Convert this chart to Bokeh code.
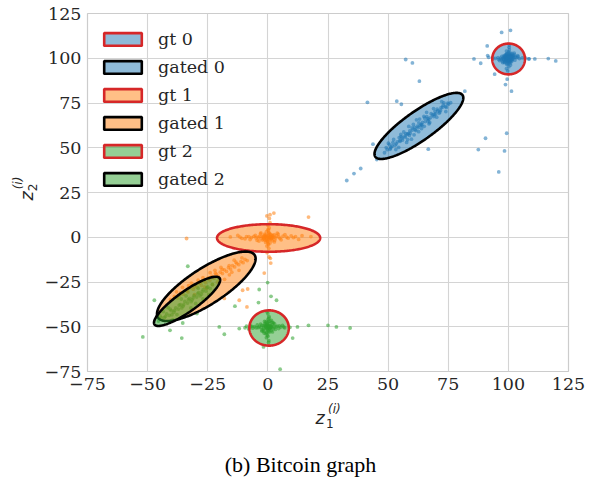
import numpy as np
from bokeh.plotting import figure
from bokeh.layouts import column, row
from bokeh.models import FixedTicker, Legend, LegendItem, Range1d
from bokeh.core.properties import value
from bokeh.embed import file_html
from bokeh.resources import INLINE

# ---------------- data ----------------
# cluster 0 (blue): tight core, elongated gated cloud, stray points
c0_core_x = [100.2, 99.1, 101.3, 98.7, 100.8, 102.1, 97.9, 100.5, 99.6, 101.9, 98.2, 100.0, 103.4, 96.8,
             99.3, 100.9, 101.5, 98.9, 100.3, 99.8, 104.6, 95.7, 100.1, 99.4, 102.7, 97.3, 100.6, 99.9,
             101.1, 98.5, 100.4, 105.8, 94.6, 100.2, 99.7, 100.0, 101.7, 98.1, 99.5, 100.7, 107.2, 93.5,
             100.3, 99.2, 102.4, 97.6, 100.8, 99.0, 101.4, 98.8, 100.1, 99.6, 102.9, 97.1, 100.5, 99.3,
             101.2, 98.4, 100.9, 99.8, 103.9, 96.3, 100.6, 99.5, 101.8, 98.6, 100.2, 99.9, 108.6, 91.8,
             100.4, 99.7, 99.4, 100.7, 101.0, 98.9, 100.3, 99.2, 101.6, 98.3, 100.0, 100.1, 102.2, 97.8,
             100.6, 99.4, 101.3, 98.6, 100.2, 99.8, 102.6, 97.5, 101.5, 98.4, 100.9, 99.2, 104.0, 96.0,
             100.4, 99.6, 100.8, 99.1]
c0_core_y = [100.4, 99.3, 100.9, 100.2, 98.6, 101.2, 99.5, 101.8, 98.1, 99.7, 101.4, 100.0, 100.3, 100.1,
             102.6, 97.4, 101.0, 98.8, 99.2, 100.7, 99.8, 100.4, 103.5, 96.5, 98.9, 101.1, 100.2, 99.6,
             102.2, 97.9, 104.8, 100.2, 99.9, 95.3, 101.3, 98.9, 100.6, 99.2, 100.9, 99.4, 100.1, 100.3,
             106.1, 94.2, 102.9, 97.6, 101.5, 100.5, 98.3, 101.9, 100.8, 99.9, 100.7, 99.3, 97.9, 102.0,
             99.0, 100.6, 100.3, 98.4, 101.4, 98.7, 103.0, 97.0, 101.8, 98.3, 99.1, 101.0, 99.7, 100.5,
             107.4, 92.9, 100.8, 99.9, 101.5, 99.9, 98.2, 101.7, 99.1, 100.8, 102.9, 97.1, 100.5, 100.0,
             101.1, 98.8, 99.6, 101.0, 100.9, 99.0, 101.9, 98.4, 102.7, 97.5, 96.2, 104.0, 100.9, 99.4,
             100.0, 100.3, 100.6, 99.6]
c0_band_x = [48.5, 49.6, 50.8, 51.7, 52.9, 53.8, 55.0, 55.9, 57.1, 58.0, 59.2, 60.1, 61.3, 62.2, 63.4,
             64.3, 65.5, 66.4, 67.6, 68.5, 69.7, 70.6, 71.8, 72.7, 73.9, 74.8, 76.0, 56.5, 60.8, 64.9,
             67.0, 52.3, 70.2, 58.6, 62.7, 54.4, 72.3, 66.0, 59.7, 50.1, 74.0, 61.8, 57.7, 68.9, 63.9,
             55.3, 71.2, 53.2, 65.0, 60.5, 51.2, 54.9, 58.4, 61.0, 63.8, 66.9, 69.2, 72.0, 75.1, 57.0,
             49.2, 50.5, 52.0, 53.4, 54.6, 56.0, 57.4, 58.8, 60.0, 61.5, 62.8, 64.0, 65.2, 66.6, 67.9,
             69.0, 70.4, 71.5, 72.9, 74.2, 55.4, 59.0, 62.5, 66.1, 69.5, 51.0, 73.2, 63.1, 58.1, 67.3]
c0_band_y = [47.2, 48.9, 49.1, 51.0, 51.4, 53.3, 53.6, 55.5, 55.9, 57.6, 58.1, 59.9, 60.2, 62.0, 62.5,
             64.1, 64.6, 66.3, 66.8, 68.4, 68.9, 70.6, 71.0, 72.7, 73.1, 74.9, 75.2, 58.8, 57.2, 67.5,
             63.4, 54.6, 67.1, 61.9, 59.0, 50.2, 75.8, 69.8, 54.8, 52.5, 70.2, 65.6, 53.0, 71.9, 60.7,
             57.4, 69.3, 49.0, 62.0, 63.0, 50.4, 54.1, 57.9, 61.4, 63.0, 65.9, 68.5, 72.4, 74.3, 56.6,
             50.1, 51.8, 52.9, 52.2, 55.7, 54.3, 57.9, 56.9, 61.1, 59.6, 63.9, 62.6, 66.5, 65.0, 69.0,
             67.4, 71.5, 70.0, 73.8, 72.5, 56.2, 59.4, 61.3, 67.4, 70.2, 49.8, 75.1, 66.0, 54.5, 64.1]
c0_out_x = [97.2, 100.9, 91.2, 91.4, 85.7, 88.5, 94.3, 98.8, 99.5, 101.3, 108.5, 111.0, 116.6, 119.7,
            57.3, 60.1, 63.0, 81.9, 41.4, 53.6, 55.5, 90.5, 99.3, 87.5, 98.4, 96.0, 66.7, 43.7, 38.6,
            35.8, 32.8, 45.3]
c0_out_y = [114.4, 115.6, 106.9, 101.5, 99.6, 97.2, 91.1, 85.3, 88.3, 81.6, 99.6, 99.6, 99.8, 98.5,
            99.3, 97.4, 87.2, 81.6, 75.4, 76.0, 74.3, 55.3, 58.1, 49.0, 48.2, 36.5, 49.2, 52.0, 38.4,
            35.6, 31.7, 43.4]

# cluster 1 (orange)
c1_core_x = [0.3, -1.2, 1.5, -0.6, 2.1, -2.4, 0.8, -0.2, 3.2, -3.5, 0.5, -0.9, 1.1, -1.6, 4.6, -4.9,
             0.2, 0.1, 2.6, -2.2, 6.3, -6.8, 0.6, -0.4, 1.8, -1.4, 8.4, -8.9, 0.0, 0.4, 11.5, -10.8,
             3.9, -3.7, 0.7, -0.5, 14.2, -15.6, 1.3, -1.0, 5.5, -5.2, 2.7, -2.9, 0.9, -0.3, 12.8, -12.5,
             7.1, -7.4, 0.2, -0.8, 1.9, -1.8, 0.4, 9.7, -9.5, 0.6, 1.0, 17.9,
             0.5, -0.7, 1.6, -1.5, 2.4, -2.7, 0.3, -0.1, 3.6, -4.0, 0.9, -0.6, 5.0, -5.8, 1.2, -1.1,
             2.9, -3.1, 7.8, -7.9, 0.1, 0.3, 4.3, -4.5, 10.6, -11.6, 0.8, -0.3, 1.7, -1.9]
c1_core_y = [0.2, 0.8, -0.6, -1.1, 0.9, 0.3, 1.7, -2.0, -0.3, 0.5, 2.6, -2.9, 0.4, -0.5, 0.2, -0.4,
             3.8, -3.6, 1.4, -1.6, 0.6, -0.2, 5.2, -4.9, -1.9, 1.8, -0.5, 0.4, 6.7, -6.2, 0.3, -0.6,
             2.3, -2.1, -0.3, 0.6, 0.9, 0.2, -1.2, 1.3, -1.4, 1.1, -2.6, 2.4, 8.1, -8.6, -1.2, 1.0,
             1.5, -1.3, 0.9, -0.2, 0.1, -0.1, -1.5, 0.8, -0.9, 10.5, -11.8, 0.4,
             -0.7, 0.4, 1.0, -1.2, -0.1, -0.8, 2.1, -2.4, 0.7, -0.1, -3.2, 3.1, -0.6, 0.5, 1.6, -1.7,
             -1.6, 1.9, 0.1, 0.3, 4.4, -4.2, 1.8, -1.7, -0.2, 0.1, 0.0, -0.5, -0.4, 0.6]
c1_band_x = [-40.5, -38.9, -37.6, -36.2, -35.1, -34.0, -33.2, -32.1, -31.0, -30.2, -29.4, -28.5, -27.6,
             -26.8, -25.9, -25.0, -24.1, -23.3, -22.4, -21.5, -20.7, -19.8, -18.9, -18.1, -17.2, -16.4,
             -15.5, -14.7, -13.8, -12.9, -12.1, -11.2, -10.3, -9.5, -8.6, -27.0, -23.0, -19.5, -30.5,
             -16.0, -35.5, -21.0, -14.0, -25.5, -33.0, -18.0, -12.0, -38.0, -29.0, -22.0,
             -36.8, -33.6, -30.6, -27.9, -24.6, -21.8, -19.0, -16.1, -13.3, -10.8, -26.2, -20.2, -15.0,
             -31.8, -24.0]
c1_band_y = [-34.8, -33.1, -33.9, -31.0, -31.8, -29.5, -30.6, -28.2, -29.0, -26.7, -27.9, -25.8, -26.9,
             -24.2, -25.4, -23.1, -24.0, -21.8, -22.9, -20.6, -21.7, -19.5, -20.3, -18.2, -19.1, -17.0,
             -17.8, -15.9, -16.6, -14.7, -15.3, -13.6, -14.2, -12.4, -13.0, -22.5, -26.5, -16.9, -32.0,
             -21.0, -28.0, -25.0, -12.8, -28.5, -27.0, -23.5, -18.5, -30.5, -24.0, -18.5,
             -32.4, -29.9, -27.7, -25.1, -22.7, -20.1, -18.0, -15.8, -13.9, -11.5, -27.8, -23.3, -19.5,
             -25.6, -19.8]
c1_out_x = [-0.4, 16.9, 1.2, 0.5, -33.8, -1.5, -8.4, -10.5, -8.7, -11.9, -18.1, 2.5, 0.9]
c1_out_y = [11.9, 11.3, -14.4, -11.0, -0.7, -20.0, -28.9, -29.6, -38.9, -35.2, -34.2, 13.5, 12.6]

# cluster 2 (green)
c2_core_x = [0.2, -0.9, 1.1, -0.4, 1.7, -1.8, 0.6, -0.1, 2.6, -2.8, 0.3, -0.5, 0.9, -1.3, 3.9, -4.1,
             0.1, -0.2, 2.0, -1.9, 5.3, -5.6, 0.5, -0.6, 1.4, -1.1, 7.0, -7.2, 0.0, 0.4, 1.2, -0.7,
             0.8, -0.3, 3.1, -3.0, 2.3, -2.4, 0.2, -0.1, 4.5, -4.4, 1.5, -1.5, 6.1, -6.3, 0.7, -0.8,
             9.2, -8.9,
             0.6, -0.5, 1.4, -1.6, 0.2, -0.3, 2.3, -2.5, 0.9, -0.8, 3.4, -3.6, 1.9, -1.4, 0.4, -0.2,
             4.8, -4.9, 0.0, 0.5, 2.8, -2.6, 1.0, -1.0, 6.6, -6.7, 0.3, -0.4, 1.8, -1.7]
c2_core_y = [-49.8, -50.6, -49.2, -51.3, -50.4, -49.5, -48.3, -52.0, -50.1, -50.3, -47.1, -53.2, -50.9,
             -49.0, -49.7, -50.5, -45.8, -54.6, -48.6, -51.8, -50.2, -49.9, -44.3, -56.1, -52.2, -48.1,
             -50.6, -49.6, -42.7, -57.8, -50.0, -50.0, -51.6, -48.7, -51.5, -48.5, -47.8, -52.5, -50.5,
             -49.4, -51.0, -49.0, -46.5, -53.6, -49.3, -50.8, -53.0, -47.2, -50.3, -49.7,
             -50.9, -49.1, -49.8, -50.8, -52.6, -47.7, -51.1, -49.2, -46.9, -53.9, -50.0, -50.0, -52.9,
             -47.0, -49.2, -50.9, -49.5, -50.6, -55.3, -45.2, -48.4, -51.7, -50.3, -49.7, -50.1, -49.8,
             -58.8, -41.6, -47.5, -52.6]
c2_band_x = [-45.5, -44.2, -43.0, -42.1, -41.0, -40.2, -39.1, -38.3, -37.2, -36.4, -35.3, -34.5, -33.4,
             -32.6, -31.5, -30.7, -29.6, -28.8, -27.7, -26.9, -25.8, -25.0, -24.0, -23.1, -37.8, -34.0,
             -30.0, -41.5, -27.0, -36.0, -32.0, -39.5, -29.0, -43.5, -24.5,
             -44.8, -42.6, -40.6, -38.8, -36.9, -35.0, -33.0, -31.1, -29.2, -27.3, -25.4, -39.9, -35.8,
             -31.9, -28.2]
c2_band_y = [-46.8, -45.1, -44.9, -42.8, -43.6, -41.0, -41.9, -39.4, -40.1, -37.6, -38.5, -35.9, -36.8,
             -34.2, -35.0, -32.6, -33.4, -30.9, -31.8, -29.3, -30.1, -27.8, -28.6, -26.4, -43.2, -32.8,
             -37.0, -39.3, -34.5, -34.5, -39.5, -46.0, -28.5, -41.5, -32.0,
             -44.0, -44.2, -40.2, -40.8, -38.0, -37.6, -34.9, -33.9, -31.6, -30.4, -28.2, -43.3, -39.5,
             -36.0, -32.7]
c2_out_x = [-47.2, -52.0, -35.8, -33.3, -40.7, -35.4, -29.5, -20.2, -18.1, -13.7, -3.9, -3.6, -0.1, 1.3,
            3.6, 5.1, 10.3, 12.3, 16.9, 25.0, 28.5, 34.2, -1.8, -11.9, -9.5, -8.0]
c2_out_y = [-35.2, -55.7, -56.3, -16.2, -52.0, -47.9, -42.6, -50.1, -54.2, -38.5, -36.5, -29.2, -25.3,
            -33.0, -35.2, -73.7, -56.3, -50.1, -49.2, -49.2, -50.1, -50.7, -61.3, -51.0, -50.6, -51.2]

# ellipses: ground-truth and gated fits (center, full width/height, rotation in degrees)
ell_labels = ["gt 0", "gated 0", "gt 1", "gated 1", "gt 2", "gated 2"]
ell_cx = [100.1, 62.8, 0.3, -25.6, 0.5, -33.6]
ell_cy = [99.6, 62.2, -0.4, -27.4, -50.7, -35.8]
ell_w = [13.6, 50.2, 42.9, 53.5, 16.4, 37.6]
ell_h = [17.2, 14.4, 15.4, 18.0, 19.7, 10.0]
ell_angle = [0, 45, 0, 43, 0, 45]

x_ticks = [-75, -50, -25, 0, 25, 50, 75, 100, 125]
x_tick_labels = ["−75", "−50", "−25", "0", "25", "50", "75", "100", "125"]
y_ticks = [-75, -50, -25, 0, 25, 50, 75, 100, 125]
y_tick_labels = ["−75", "−50", "−25", "0", "25", "50", "75", "100", "125"]

x_title = ("z", "1", "(i)")
y_title = ("z", "2", "(i)")
caption = "(b) Bitcoin graph"

# ---------------- styling ----------------
C0, C1, C2, RED = "#1f77b4", "#ff7f0e", "#2ca02c", "#d62728"
ell_fill = [C0, C0, C1, C1, C2, C2]
ell_edge = [RED, "black", RED, "black", RED, "black"]
SERIF = "DejaVu Serif"
FS = "17.5px"
TXT = "#262626"

W, H = 594, 480
LEFT_W = 40          # strip holding the vertical axis title
MAIN_H = 398         # main plot (frame + tick labels)
FRAME_L, FRAME_R, FRAME_T, FRAME_B = 87, 568, 13, 371

p = figure(width=W - LEFT_W, height=MAIN_H, output_backend="svg", toolbar_location=None,
           title=None, x_range=Range1d(-75, 125), y_range=Range1d(-75, 125),
           min_border_left=FRAME_L - LEFT_W, min_border_right=W - FRAME_R,
           min_border_top=FRAME_T, min_border_bottom=MAIN_H - FRAME_B)
p.background_fill_color = "white"
p.border_fill_color = "white"
p.outline_line_color = "#cccccc"
p.outline_line_width = 1.2

for ax, ticks, labels in ((p.xaxis[0], x_ticks, x_tick_labels), (p.yaxis[0], y_ticks, y_tick_labels)):
    ax.ticker = FixedTicker(ticks=ticks)
    ax.major_label_overrides = {t: s for t, s in zip(ticks, labels)}
    ax.axis_line_color = None
    ax.major_tick_line_color = None
    ax.minor_tick_line_color = None
    ax.major_tick_out = 0
    ax.major_tick_in = 0
    ax.major_label_standoff = 6
    ax.major_label_text_font = SERIF
    ax.major_label_text_font_size = FS
    ax.major_label_text_color = TXT

p.grid.grid_line_color = "#d4d4d4"
p.grid.grid_line_width = 1.1

# scatter clouds
dot = dict(size=3.8, line_width=0, fill_alpha=0.55)
for xs, ys, c in ((c0_core_x + c0_band_x + c0_out_x, c0_core_y + c0_band_y + c0_out_y, C0),
                  (c1_core_x + c1_band_x + c1_out_x, c1_core_y + c1_band_y + c1_out_y, C1),
                  (c2_core_x + c2_band_x + c2_out_x, c2_core_y + c2_band_y + c2_out_y, C2)):
    p.scatter(xs, ys, marker="circle", fill_color=c, **dot)


def ellipse_outline(cx, cy, w, h, deg, n=240):
    t = np.linspace(0, 2 * np.pi, n)
    th = np.deg2rad(deg)
    a, b = w / 2, h / 2
    x = cx + a * np.cos(t) * np.cos(th) - b * np.sin(t) * np.sin(th)
    y = cy + a * np.cos(t) * np.sin(th) + b * np.sin(t) * np.cos(th)
    return x, y


items = []
for i, lab in enumerate(ell_labels):
    ex, ey = ellipse_outline(ell_cx[i], ell_cy[i], ell_w[i], ell_h[i], ell_angle[i])
    r = p.patch(ex, ey, fill_color=ell_fill[i], fill_alpha=0.5,
                line_color=ell_edge[i], line_width=2.6)
    items.append(LegendItem(label=lab, renderers=[r]))

legend = Legend(items=items, location=(4, 174), margin=0, padding=8, spacing=7,
                glyph_width=47, glyph_height=16, label_height=21, label_standoff=12,
                label_text_font=SERIF, label_text_font_size=FS, label_text_color=TXT,
                background_fill_alpha=0, border_line_alpha=0)
p.add_layout(legend)


def text_strip(width, height):
    """Blank figure whose data units are pixels, used for titles outside the frame."""
    f = figure(width=width, height=height, output_backend="svg", toolbar_location=None,
               title=None, x_range=Range1d(0, width), y_range=Range1d(0, height),
               x_axis_type=None, y_axis_type=None, min_border=0)
    f.outline_line_color = None
    f.background_fill_color = "white"
    f.border_fill_color = "white"
    f.grid.visible = False
    return f


math = dict(text_font=value("DejaVu Sans"), text_color=TXT, text_baseline="alphabetic")

# vertical axis title, rotated, sitting left of the tick labels
left = text_strip(LEFT_W, MAIN_H)
left.text(x=[26.5], y=[190], text=[y_title[0]], angle=np.pi / 2, text_font_style="italic",
          text_font_size="17.5px", **math)
left.text(x=[31.5], y=[200.5], text=[y_title[1]], angle=np.pi / 2, text_font_size="12px", **math)
left.text(x=[17], y=[202.5], text=[y_title[2]], angle=np.pi / 2, text_font_style="italic",
          text_font_size="12px", **math)

# horizontal axis title and caption underneath
bottom = text_strip(W, H - MAIN_H)
bottom.text(x=[315], y=[62.5], text=[x_title[0]], text_font_style="italic", text_font_size="17.5px", **math)
bottom.text(x=[325.5], y=[57.5], text=[x_title[1]], text_font_size="12px", **math)
bottom.text(x=[327.5], y=[72], text=[x_title[2]], text_font_style="italic", text_font_size="12px", **math)
bottom.text(x=[300], y=[16], text=[caption], text_font=value("Liberation Serif"), text_font_size="22px",
            text_align="center", text_baseline="alphabetic", text_color="black")

layout = column(row(left, p, spacing=0), bottom, spacing=0)
open("out.html", "w").write(file_html(layout, INLINE))
